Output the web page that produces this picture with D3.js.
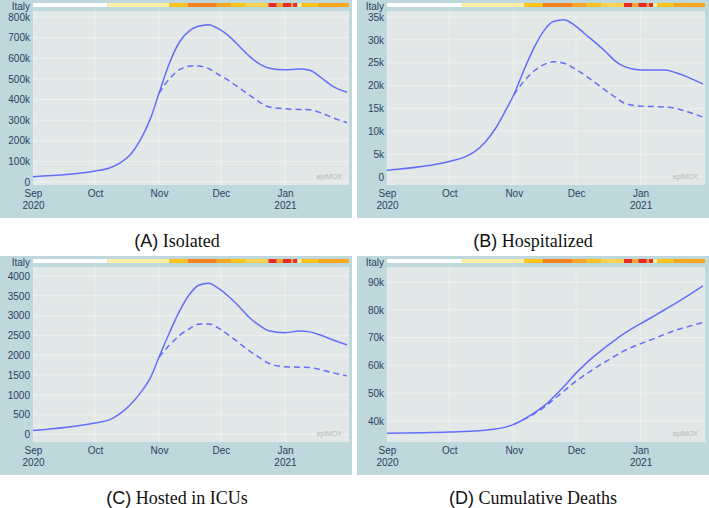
<!DOCTYPE html>
<html>
<head>
<meta charset="utf-8">
<script src="https://cdn.jsdelivr.net/npm/d3@7"></script>
<style>
  html, body { margin: 0; padding: 0; background: #ffffff; }
  svg { display: block; }
</style>
</head>
<body>
<svg id="chart" width="709" height="508"></svg>
<script>
// ---------------- DATA ----------------
const obsDates = ["2020-09-01","2020-10-01","2020-10-08","2020-10-13","2020-10-18","2020-10-23","2020-10-28",
  "2020-11-01","2020-11-06","2020-11-11","2020-11-16","2020-11-20","2020-11-25","2020-11-30","2020-12-05",
  "2020-12-10","2020-12-15","2020-12-20","2020-12-24","2021-01-01","2021-01-08","2021-01-13","2021-01-18",
  "2021-01-24","2021-01-31"];
const scenDates = ["2020-11-01","2020-11-06","2020-11-11","2020-11-16","2020-11-20","2020-11-25","2020-11-30",
  "2020-12-05","2020-12-10","2020-12-15","2020-12-20","2020-12-24","2021-01-01","2021-01-08","2021-01-13",
  "2021-01-18","2021-01-24","2021-01-31"];

const isolatedObserved = [26000,53000,68000,92000,131000,204000,311000,430000,575000,680000,735000,755000,763000,
  742000,706000,657000,608000,570000,553000,544000,548000,542000,510000,465000,435000];
const isolatedScenario = [430000,500000,545000,562000,563000,550000,520000,490000,455000,420000,385000,365000,
  355000,352000,350000,337000,312000,288000];

const hospitalizedObserved = [1500,3400,4300,5500,7500,10500,14500,18000,23500,28500,32300,34000,34400,33300,
  31400,29500,27500,25300,24200,23400,23400,23400,22800,21800,20300];
const hospitalizedScenario = [18000,21000,23300,24700,25200,24900,23800,22300,20700,19000,17400,16200,15500,
  15400,15300,15000,14200,13100];

const icuObserved = [100,290,370,520,745,1050,1450,1950,2560,3120,3550,3760,3820,3680,3470,3220,2940,2740,2620,
  2570,2610,2590,2510,2390,2260];
const icuScenario = [1950,2250,2500,2680,2780,2790,2680,2500,2300,2100,1930,1800,1710,1700,1690,1640,1560,1480];

const deathsObserved = [35600,36000,36200,36400,36700,37100,37800,38800,40700,43000,45700,48500,52300,56500,
  60200,63500,66500,69300,71400,75000,78000,80200,82400,85200,88600];
const deathsScenario = [38800,40600,42700,45200,47600,50700,53800,56500,59000,61300,63500,65200,67800,69800,
  71300,72700,74000,75400];

// restriction-level strip (start date, end date, level)
const stripStarts = ["2020-09-01","2020-10-07","2020-11-06","2020-11-15","2020-11-29","2020-12-06","2020-12-13",
  "2020-12-24","2020-12-28","2020-12-31","2021-01-04","2021-01-05","2021-01-07","2021-01-09","2021-01-17"];
const stripEnds = ["2020-10-07","2020-11-06","2020-11-15","2020-11-29","2020-12-06","2020-12-13","2020-12-24",
  "2020-12-28","2020-12-31","2021-01-04","2021-01-05","2021-01-07","2021-01-09","2021-01-17","2021-02-01"];
const stripLevels = [0,1,3,5,4,3,2,6,4,6,4,6,1,3,4];

const regionLabel = "Italy";
const monthTicks = ["2020-09-01","2020-10-01","2020-11-01","2020-12-01","2021-01-01"];
const yTicksIsolated = [0,100000,200000,300000,400000,500000,600000,700000,800000];
const yTicksHospitalized = [0,5000,10000,15000,20000,25000,30000,35000];
const yTicksIcu = [0,500,1000,1500,2000,2500,3000,3500,4000];
const yTicksDeaths = [40000,50000,60000,70000,80000,90000];
const captionLetters = ["(A)","(B)","(C)","(D)"];
const captionTexts = ["Isolated","Hospitalized","Hosted in ICUs","Cumulative Deaths"];

// ---------------- STYLE ----------------
const levelColors = ["#ffffff","#fdf0a6","#f9d251","#fcc21c","#f8a61f","#f5821f","#e8282a"];
const panelBg = "#bfd8db";
const plotBg = "#e2e8e7";
const gridColor = "#edf1f0";
const lineColor = "#636efa";
const textColor = "#2a3f5f";
const fontSans = "'Liberation Sans', Arial, sans-serif";
const fontSerif = "'Liberation Serif', 'Times New Roman', serif";
const tickFont = 10;

const parse = d3.timeParse("%Y-%m-%d");
const kfmt = d => d === 0 ? "0" : (d / 1000) + "k";

const panels = [
  { box:[0,0,352,218],   plot:[33,349,11,185],  yDom:[0,800000], yRange:[182,17], ticks:yTicksIsolated, fmt:kfmt,
    obs:isolatedObserved, scen:isolatedScenario, capX:177, capY:247 },
  { box:[357,0,352,218], plot:[387,705,11,185], yDom:[0,35000], yRange:[177,17], ticks:yTicksHospitalized, fmt:kfmt,
    obs:hospitalizedObserved, scen:hospitalizedScenario, capX:533, capY:247 },
  { box:[0,256,352,219], plot:[33,349,267,442], yDom:[0,4000], yRange:[434.5,276], ticks:yTicksIcu, fmt:d=>String(d),
    obs:icuObserved, scen:icuScenario, capX:177, capY:504 },
  { box:[357,256,352,219], plot:[387,705,267,442], yDom:[40000,90000], yRange:[421,282], ticks:yTicksDeaths, fmt:kfmt,
    obs:deathsObserved, scen:deathsScenario, capX:533, capY:504 }
];

const svg = d3.select("#chart");
svg.append("rect").attr("width",709).attr("height",508).attr("fill","#ffffff");

const levelScale = d3.scaleOrdinal().domain(d3.range(levelColors.length)).range(levelColors);

panels.forEach((p, i) => {
  const [bx, by, bw, bh] = p.box;
  const [px0, px1, py0, py1] = p.plot;
  const g = svg.append("g");

  g.append("rect").attr("x",bx).attr("y",by).attr("width",bw).attr("height",bh).attr("fill",panelBg);
  g.append("rect").attr("x",px0).attr("y",py0).attr("width",px1-px0).attr("height",py1-py0).attr("fill",plotBg);

  const x = d3.scaleTime().domain([parse("2020-09-01"), parse("2021-02-01")]).range([px0, px1]);
  const y = d3.scaleLinear().domain(p.yDom).range(p.yRange);

  const clipId = "clip" + i;
  svg.append("clipPath").attr("id", clipId).append("rect")
    .attr("x",px0).attr("y",py0).attr("width",px1-px0).attr("height",py1-py0);

  // grid
  const grid = g.append("g").attr("clip-path",`url(#${clipId})`);
  grid.selectAll("line.h").data(p.ticks).join("line").attr("class","h")
    .attr("x1",px0).attr("x2",px1).attr("y1",d=>y(d)).attr("y2",d=>y(d))
    .attr("stroke",gridColor).attr("stroke-width",1);
  grid.selectAll("line.v").data(monthTicks.map(parse)).join("line").attr("class","v")
    .attr("x1",d=>x(d)).attr("x2",d=>x(d)).attr("y1",py0).attr("y2",py1)
    .attr("stroke",gridColor).attr("stroke-width",1);

  // strip
  g.selectAll("rect.strip").data(stripLevels.map((l,k)=>({s:parse(stripStarts[k]), e:parse(stripEnds[k]), l})))
    .join("rect").attr("class","strip")
    .attr("x",d=>x(d.s)).attr("width",d=>x(d.e)-x(d.s))
    .attr("y",by+3).attr("height",4)
    .attr("fill",d=>levelScale(d.l));

  g.append("text").attr("x",px0-3).attr("y",by+9.5).attr("text-anchor","end")
    .attr("font-family",fontSans).attr("font-size",tickFont).attr("fill",textColor).text(regionLabel);

  // y axis
  const ya = d3.axisLeft(y).tickValues(p.ticks).tickFormat(p.fmt).tickSize(0).tickPadding(3);
  const yg = g.append("g").attr("transform",`translate(${px0},0)`).call(ya);
  yg.select(".domain").remove();
  yg.selectAll("text").attr("font-family",fontSans).attr("font-size",tickFont).attr("fill",textColor);

  // x axis
  const xa = d3.axisBottom(x).tickValues(monthTicks.map(parse)).tickFormat(d3.timeFormat("%b")).tickSize(0).tickPadding(0);
  const xg = g.append("g").attr("transform",`translate(0,${py1})`).call(xa);
  xg.select(".domain").remove();
  xg.selectAll("text").attr("dy",null).attr("y",12)
    .attr("font-family",fontSans).attr("font-size",tickFont).attr("fill",textColor);
  xg.selectAll(".tick").filter(d => d.getMonth() === 8 || d.getMonth() === 0)
    .append("text").attr("y",23.5).attr("text-anchor","middle")
    .attr("font-family",fontSans).attr("font-size",tickFont).attr("fill",textColor)
    .text(d => d.getFullYear());

  // lines
  const line = d3.line().x(d=>x(d[0])).y(d=>y(d[1])).curve(d3.curveMonotoneX);
  const lg = g.append("g").attr("clip-path",`url(#${clipId})`);
  lg.append("path").datum(obsDates.map((d,k)=>[parse(d), p.obs[k]]))
    .attr("d",line).attr("fill","none").attr("stroke",lineColor).attr("stroke-width",1.5);
  lg.append("path").datum(scenDates.map((d,k)=>[parse(d), p.scen[k]]))
    .attr("d",line).attr("fill","none").attr("stroke",lineColor).attr("stroke-width",1.5)
    .attr("stroke-dasharray","6,4");

  // watermark
  g.append("text").attr("x",px1-7).attr("y",py1-6).attr("text-anchor","end")
    .attr("font-family",fontSans).attr("font-size",7).attr("fill","#b4b9b9").text("epiMOX");

  // caption
  const cap = svg.append("text").attr("x",p.capX).attr("y",p.capY).attr("text-anchor","middle")
    .attr("fill","#111").attr("font-size",18);
  cap.append("tspan").attr("font-family","'Liberation Sans', Arial, sans-serif").text(captionLetters[i]);
  cap.append("tspan").attr("font-family",fontSerif).text(" " + captionTexts[i]);
});
</script>
</body>
</html>
